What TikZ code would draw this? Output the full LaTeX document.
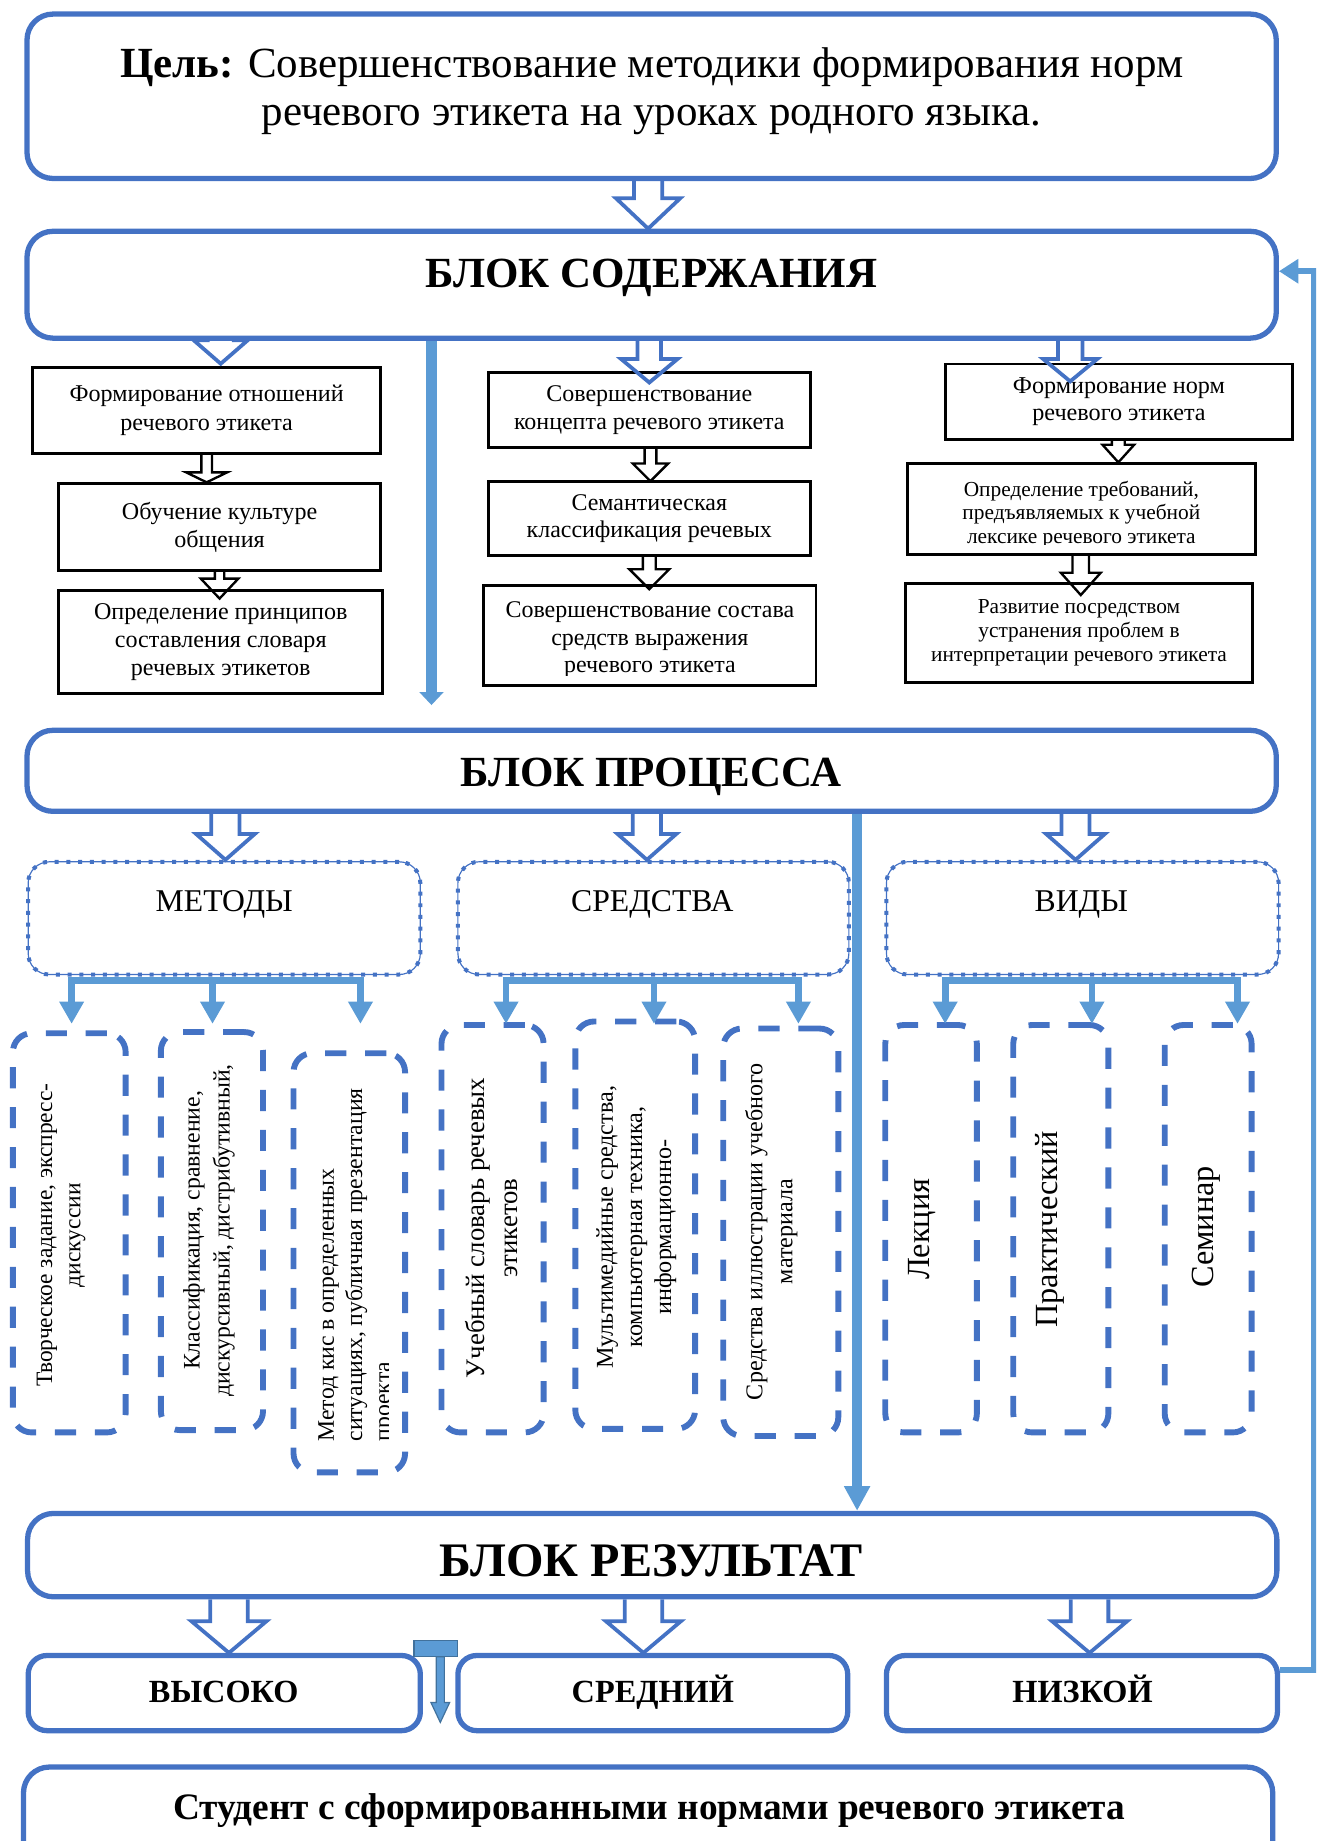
\documentclass[tikz,border=0pt]{standalone}
\usepackage{fontspec}
\setmainfont{Liberation Serif}
\usetikzlibrary{arrows.meta,calc}
\definecolor{cB}{HTML}{4472C4}
\definecolor{cL}{HTML}{5B9BD5}
\definecolor{cD}{HTML}{41719C}
\newcommand\fs[2]{\fontsize{#1}{#2}\selectfont}
% hollow block arrow: [style]{from}{to}{half shaft}{half head}{head length}
\newcommand\harrow[6][]{%
  \draw[#1] let \p1=(#2), \p2=(#3) in
    (\x2-#4*0.5pt,\y1) -- (\x2-#4*0.5pt,\y2+#6*0.5pt) -- (\x2-#5*0.5pt,\y2+#6*0.5pt)
    -- (\x2,\y2) -- (\x2+#5*0.5pt,\y2+#6*0.5pt) -- (\x2+#4*0.5pt,\y2+#6*0.5pt) -- (\x2+#4*0.5pt,\y1);}
\begin{document}
\begin{tikzpicture}[x=0.5pt,y=-0.5pt,
  wh/.style 2 args={minimum width=#1*0.5pt, minimum height=#2*0.5pt},
  bbox/.style={rectangle, draw=cB, line width=2.25pt, rounded corners=11pt, inner sep=0pt},
  sbox/.style={rectangle, draw=cB, line width=2.25pt, rounded corners=8pt, inner sep=0pt},
  kbox/.style={rectangle, draw=black, line width=1.2pt, inner sep=0pt, align=center},
  dotbox/.style={rectangle, draw=cB, line width=1.7pt, dash pattern=on 1.7pt off 3.3pt, rounded corners=9pt, inner sep=0pt,
     preaction={draw=cB, line width=0.5pt, solid}},
  dbox/.style={rectangle, draw=cB, line width=2.5pt, dash pattern=on 9pt off 8pt, rounded corners=8pt, inner sep=0pt},
  txt/.style={inner sep=0pt, align=center},
  vtxt/.style={inner sep=0pt, align=center, rotate=90},
  vbig/.style={inner sep=0pt, rotate=90, font=\fs{13.75pt}{15pt}},
  hb/.style={draw=cB, line width=1.6pt, line join=miter},
  hk/.style={draw=black, line width=1pt, line join=miter},
  brk/.style={draw=cL, line width=3pt},
  brarr/.style={draw=cL, line width=2.85pt, -{Triangle[length=9.5pt,width=10pt]}},
  varrA/.style={draw=cL, line width=4.5pt, -{Triangle[length=5.5pt,width=10pt]}},
  varrB/.style={draw=cL, line width=4pt, -{Triangle[length=10.5pt,width=10.5pt]}},
  fbarr/.style={draw=cL, line width=2.5pt, line join=miter, -{Triangle[length=8.3pt,width=10pt]}}
]
\useasboundingbox (0,0) rectangle (1121,1568);
\clip (0,0) rectangle (1121,1568);

% ---------- goal ----------
\node[bbox, wh={1064}{140}] (cel) at (555,82) {};
\node[txt, font=\fs{18.3pt}{20.3pt}] (celT) at (555,77.5)
  {\textbf{Цель:} Совершенствование методики формирования норм\\речевого этикета на уроках родного языка.};

% ---------- content block ----------
\node[bbox, wh={1064}{91}] (sod) at (555,242.5) {};
\node[anchor=base, inner sep=0pt, font=\fs{18.3pt}{20pt}\bfseries] (sodT) at (555,245) {БЛОК СОДЕРЖАНИЯ};

\node[kbox, wh={296}{73}, font=\fs{10.25pt}{12.25pt}] (L1) at (176,349.5) {Формирование отношений\\речевого этикета};
\node[kbox, wh={274}{74}, font=\fs{10.25pt}{11.75pt}] (L2) at (187,449) {Обучение культуре\\общения};
\node[kbox, wh={276}{88}, font=\fs{10.25pt}{11.9pt}] (L3) at (188,547) {Определение принципов\\составления словаря\\речевых этикетов};

\node[kbox, wh={274}{64}, font=\fs{10.2pt}{11.8pt}] (M1) at (553,349) {Совершенствование\\концепта речевого этикета};
\node[kbox, wh={274}{63}, font=\fs{10.2pt}{11.6pt}] (M2) at (553,441.5) {Семантическая\\классификация речевых};
\node[kbox, wh={283}{85}] (M3) at (553.5,541.5) {};
\begin{scope}
  \clip (412,499) rectangle (695,575);
  \node[txt, font=\fs{10.2pt}{11.7pt}] (M3t) at (553.5,545) {Совершенствование состава\\средств выражения\\речевого этикета};
\end{scope}

\node[kbox, wh={296}{64}, font=\fs{10.3pt}{11.5pt}] (R1) at (953,342) {Формирование норм\\речевого этикета};
\node[kbox, wh={296}{77}] (R2) at (921,433.5) {};
\begin{scope}
  \clip (773,395) rectangle (1069,464);
  \node[txt, font=\fs{9.1pt}{10.2pt}] (R2t) at (921,438.3) {Определение требований,\\предъявляемых к учебной\\лексике речевого этикета};
\end{scope}
\node[kbox, wh={296}{84}, font=\fs{9.1pt}{10.3pt}] (R3) at (919,539) {Развитие посредством\\устранения проблем в\\интерпретации речевого этикета};

% ---------- process block ----------
\node[bbox, wh={1064}{69}] (pro) at (555,656.5) {};
\node[anchor=base, inner sep=0pt, font=\fs{18.3pt}{20pt}\bfseries] (proT) at (554.5,670) {БЛОК ПРОЦЕССА};

\node[dotbox, wh={334}{96}] (met) at (191,782) {};
\node[dotbox, wh={333}{96}] (sre) at (556.5,782) {};
\node[dotbox, wh={334}{96}] (vid) at (922,782) {};
\node[anchor=base, inner sep=0pt, font=\fs{13.5pt}{15pt}] (metT) at (191,776.6) {МЕТОДЫ};
\node[anchor=base, inner sep=0pt, font=\fs{13.5pt}{15pt}] (sreT) at (555.6,776.6) {СРЕДСТВА};
\node[anchor=base, inner sep=0pt, font=\fs{13.5pt}{15pt}] (vidT) at (921,776.6) {ВИДЫ};

\node[dbox, wh={96}{340}] (bA) at (59,1050) {};
\node[dbox, wh={87}{339}] (bB) at (180.5,1048.5) {};
\node[dbox, wh={95}{357}] (bC) at (297.5,1075.5) {};
\node[dbox, wh={87}{347}] (bD) at (419.5,1046.5) {};
\node[dbox, wh={102}{347}] (bE) at (541,1043.5) {};
\node[dbox, wh={98}{347}] (bF) at (665,1049.5) {};
\node[dbox, wh={78}{347}] (bG) at (793,1046.5) {};
\node[dbox, wh={81}{347}] (bH) at (903.5,1046.5) {};
\node[dbox, wh={74}{347}] (bI) at (1029,1046.5) {};

\node[vtxt, font=\fs{10pt}{12pt}] (tA) at (52,1052) {Творческое задание, экспресс-\\дискуссии};
\node[vtxt, font=\fs{10.1pt}{12.8pt}] (tB) at (178,1048) {Классификация, сравнение,\\дискурсивный, дистрибутивный,};
\begin{scope}
  \clip (250,897) rectangle (331,1254);
  \node[vtxt, font=\fs{10.1pt}{12pt}, align=left, anchor=west] (tC) at (304,1228) {Метод кис в определенных\\ситуациях, публичная презентация\\проекта};
\end{scope}
\node[vtxt, font=\fs{11.4pt}{14pt}] (tD) at (419,1046) {Учебный словарь речевых\\этикетов};
\node[vtxt, font=\fs{10.3pt}{12.4pt}] (tE) at (542,1045) {Мультимедийные средства,\\компьютерная техника,\\информационно-};
\node[vtxt, font=\fs{10.25pt}{12.8pt}] (tF) at (657,1049) {Средства иллюстрации учебного\\материала};
\node[vbig] (tG) at (785,1047) {Лекция};
\node[vbig] (tH) at (894,1047) {Практический};
\node[vbig] (tI) at (1027,1045) {Семинар};

% ---------- result block ----------
\node[bbox, wh={1064}{71}] (res) at (555.5,1324.5) {};
\node[anchor=base, inner sep=0pt, font=\fs{20.5pt}{22pt}\bfseries] (resT) at (554.5,1343) {БЛОК РЕЗУЛЬТАТ};

\node[sbox, wh={334}{64}] (vys) at (191,1442) {};
\node[sbox, wh={332}{64}] (sre2) at (556,1442) {};
\node[sbox, wh={333}{64}] (niz) at (921.5,1442) {};
\node[anchor=base, inner sep=0pt, font=\fs{13.75pt}{15pt}\bfseries] (vysT) at (190.5,1450) {ВЫСОКО};
\node[anchor=base, inner sep=0pt, font=\fs{13.75pt}{15pt}\bfseries] (sre2T) at (556,1450) {СРЕДНИЙ};
\node[anchor=base, inner sep=0pt, font=\fs{13.75pt}{15pt}\bfseries] (nizT) at (922,1450) {НИЗКОЙ};

\node[bbox, wh={1064}{90}] (stu) at (552,1550) {};
\node[anchor=base, inner sep=0pt, font=\fs{15.9pt}{17pt}\bfseries] (stuT) at (553,1550) {Студент с сформированными нормами речевого этикета};

% ---------- hollow arrows ----------
\coordinate (xa) at (552,0);   \coordinate (xb) at (188,0);
\coordinate (xc) at (553,0);   \coordinate (xd) at (911.5,0);
\coordinate (xe) at (192,0);   \coordinate (xf) at (551,0);
\coordinate (xg) at (916,0);   \coordinate (xh) at (195,0);
\coordinate (xi) at (548,0);   \coordinate (xj) at (928,0);
\coordinate (xk) at (176,0);   \coordinate (xl) at (187,0);
\coordinate (xm) at (554,0);   \coordinate (xn) at (553,0);
\coordinate (xo) at (952.5,0); \coordinate (xp) at (920.5,0);

\harrow[hb]{cel.south -| xa}{sod.north -| xa}{12}{27.5}{26}
\harrow[hb]{sod.south -| xb}{$(L1.north -| xb)+(0,-2)$}{9.5}{23}{20}
\harrow[hb]{sod.south -| xc}{$(M1.north -| xc)+(0,10)$}{10}{24}{20}
\harrow[hb]{sod.south -| xd}{$(R1.north -| xd)+(0,16)$}{10.5}{23}{19}
\harrow[hb]{pro.south -| xe}{met.north -| xe}{12}{25}{22}
\harrow[hb]{pro.south -| xf}{sre.north -| xf}{12}{25}{22}
\harrow[hb]{pro.south -| xg}{vid.north -| xg}{12}{25}{22}
\harrow[hb]{res.south -| xh}{vys.north -| xh}{16}{32}{27}
\harrow[hb]{res.south -| xi}{sre2.north -| xi}{16}{32}{27}
\harrow[hb]{res.south -| xj}{niz.north -| xj}{16}{32}{27}
\harrow[hk]{L1.south -| xk}{L2.north -| xk}{4.5}{17.5}{8.5}
\harrow[hk]{L2.south -| xl}{$(L3.north -| xl)+(0,8)$}{4}{16}{17}
\harrow[hk]{M1.south -| xm}{$(M2.north -| xm)+(0,1)$}{5}{15}{15}
\harrow[hk]{M2.south -| xn}{$(M3.north -| xn)+(0,4)$}{5.5}{17}{17}
\harrow[hk]{R1.south -| xo}{R2.north -| xo}{5.5}{13.5}{15}
\harrow[hk]{R2.south -| xp}{$(R3.north -| xp)+(0,11)$}{7}{17}{19}

% ---------- brackets under methods / means / kinds ----------
\foreach \n/\xx in {1/61,2/181,3/307,4/431,5/557,6/680,7/805,8/930,9/1054}{%
  \coordinate (b\n) at (\xx,835);
  \coordinate (t\n) at (\xx,872);
}
\draw[brk] ($(b1)+(-3,0)$) -- ($(b3)+(3,0)$);
\draw[brk] ($(b4)+(-3,0)$) -- ($(b6)+(3,0)$);
\draw[brk] ($(b7)+(-3,0)$) -- ($(b9)+(3,0)$);
\foreach \n in {1,...,9}{\draw[brarr] (b\n) -- (t\n);}

% ---------- light blue vertical arrows ----------
\coordinate (v1) at (367.5,600.5);
\draw[varrA] (sod.south -| v1) -- (v1);
\coordinate (v2) at (730,1000);
\draw[varrB] (pro.south -| v2) -- (res.north -| v2);

% ---------- feedback ----------
\coordinate (fb) at (1119.5,231);
\draw[fbarr] ($(niz.east)+(0,-20)$) -| (fb) -- (fb -| sod.east);

% ---------- small T arrow ----------
\filldraw[fill=cL, draw=cD, line width=0.5pt] (352.6,1397) rectangle (390,1411);
\filldraw[fill=cL, draw=cD, line width=0.5pt] (371.5,1411) -- (371.5,1450) -- (367,1450) -- (375,1467)
  -- (383,1450) -- (378.5,1450) -- (378.5,1411) -- cycle;
\end{tikzpicture}
\end{document}
